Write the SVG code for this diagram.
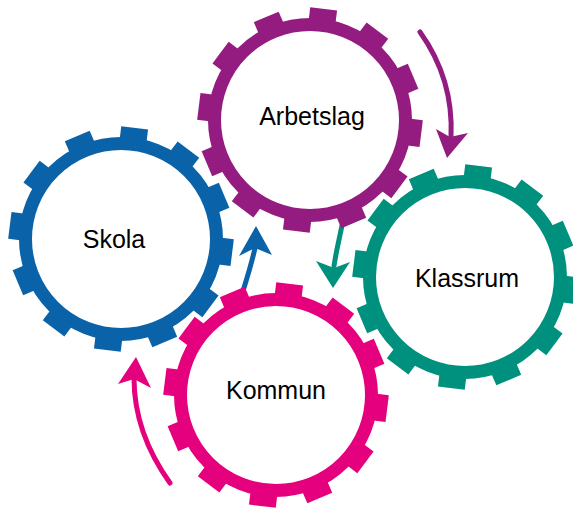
<svg xmlns="http://www.w3.org/2000/svg" xmlns:xlink="http://www.w3.org/1999/xlink" width="573" height="508" viewBox="0 0 573 508">
<style>
.lbl{font-family:"Liberation Sans","Noto Sans",Arial,sans-serif;font-size:25px;fill:#000;text-anchor:middle}
.shaft{fill:none;stroke-width:5;stroke-linecap:round}
</style>
<defs>
<g id="gear">
<circle r="95.5" fill="none" stroke="currentColor" stroke-width="13"/>
<g fill="currentColor">
<rect x="-13.5" y="-112" width="27" height="16" transform="rotate(7)"/>
<rect x="-13.5" y="-112" width="27" height="16" transform="rotate(37)"/>
<rect x="-13.5" y="-112" width="27" height="16" transform="rotate(67)"/>
<rect x="-13.5" y="-112" width="27" height="16" transform="rotate(97)"/>
<rect x="-13.5" y="-112" width="27" height="16" transform="rotate(127)"/>
<rect x="-13.5" y="-112" width="27" height="16" transform="rotate(157)"/>
<rect x="-13.5" y="-112" width="27" height="16" transform="rotate(187)"/>
<rect x="-13.5" y="-112" width="27" height="16" transform="rotate(217)"/>
<rect x="-13.5" y="-112" width="27" height="16" transform="rotate(247)"/>
<rect x="-13.5" y="-112" width="27" height="16" transform="rotate(277)"/>
<rect x="-13.5" y="-112" width="27" height="16" transform="rotate(307)"/>
<rect x="-13.5" y="-112" width="27" height="16" transform="rotate(337)"/>
</g>
</g>
</defs>
<rect width="573" height="508" fill="#fff"/>
<g id="connectors">
<path class="shaft" stroke="#941c80" d="M420,32 C440,60 453,95 451,137"/>
<path fill="#941c80" d="M447,158 L436,129 L450,137 L468,133 Z"/>
<path class="shaft" stroke="#0a63a9" d="M243,291 C248,275 252,262 255,248"/>
<path fill="#0a63a9" d="M256,226 L239,256 L255,248 L272,255 Z"/>
<path class="shaft" stroke="#00907e" d="M343,221 C339,240 336,252 334,266"/>
<path fill="#00907e" d="M333,288 L316,261 L334,268 L350,262 Z"/>
<path class="shaft" stroke="#e5007d" d="M170,483 C150,455 134,420 134,378"/>
<path fill="#e5007d" d="M136,357 L118,384 L134,379 L151,388 Z"/>
</g>
<g id="arbetslag">
<use xlink:href="#gear" href="#gear" x="310" y="120" color="#941c80"/>
<text class="lbl" x="312" y="125">Arbetslag</text>
</g>
<g id="skola">
<use xlink:href="#gear" href="#gear" x="121" y="239" color="#0a63a9"/>
<text class="lbl" x="114" y="248">Skola</text>
</g>
<g id="klassrum">
<use xlink:href="#gear" href="#gear" x="465" y="277" color="#00907e"/>
<text class="lbl" x="467" y="287">Klassrum</text>
</g>
<g id="kommun">
<use xlink:href="#gear" href="#gear" x="276" y="395" color="#e5007d"/>
<text class="lbl" x="276" y="399">Kommun</text>
</g>
</svg>
